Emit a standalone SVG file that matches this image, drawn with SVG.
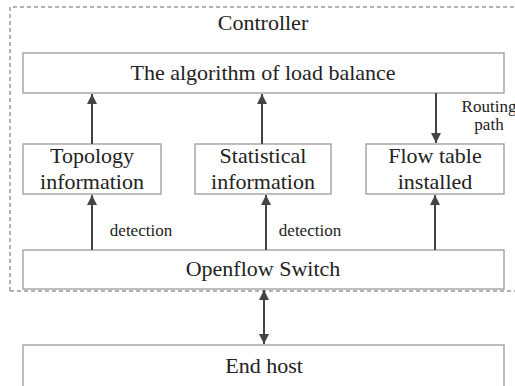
<svg xmlns="http://www.w3.org/2000/svg" width="515" height="386" viewBox="0 0 515 386">
<style>
.box{fill:#fff;stroke:#9a9a9a;stroke-width:1.3}
text{fill:#222;text-anchor:middle}
.big{font-size:22px}
.sm{font-size:17px}
.ln{stroke:#444;stroke-width:2;fill:none}
</style>
<defs>
<marker id="ah" viewBox="0 0 10 10" refX="10" refY="5" markerWidth="5" markerHeight="5" orient="auto-start-reverse" markerUnits="strokeWidth">
<path d="M0,0 L10,5 L0,10 z" fill="#444"/>
</marker>
</defs>
<rect x="0" y="0" width="515" height="386" fill="#fff"/>
<path d="M10,291 L10,7 L515,7 M10,291 L515,291" fill="none" stroke="#666" stroke-width="1" stroke-dasharray="4,3"/>
<g font-family="Liberation Serif, Times New Roman, DejaVu Serif, serif">
<g id="controller-label"><text class="big" x="263" y="30">Controller</text></g>
<g id="algorithm"><rect class="box" x="23" y="53" width="481" height="40"/><text class="big" x="263" y="80">The algorithm of load balance</text></g>
<g id="topology"><rect class="box" x="23" y="144" width="138" height="50"/><text class="big" x="92" y="163">Topology</text><text class="big" x="92" y="189">information</text></g>
<g id="statistical"><rect class="box" x="195" y="144" width="136" height="50"/><text class="big" x="263" y="163">Statistical</text><text class="big" x="263" y="189">information</text></g>
<g id="flowtable"><rect class="box" x="366" y="144" width="138" height="50"/><text class="big" x="435" y="163">Flow table</text><text class="big" x="435" y="189">installed</text></g>
<g id="openflow"><rect class="box" x="23" y="250" width="481" height="39"/><text class="big" x="263" y="276">Openflow Switch</text></g>
<g id="endhost"><rect class="box" x="23" y="345" width="481" height="50"/><text class="big" x="264" y="373">End host</text></g>
<g id="connectors">
<line class="ln" x1="92" y1="144" x2="92" y2="94" marker-end="url(#ah)"/>
<line class="ln" x1="262" y1="144" x2="262" y2="94" marker-end="url(#ah)"/>
<line class="ln" x1="436" y1="93" x2="436" y2="143" marker-end="url(#ah)"/>
<line class="ln" x1="92" y1="250" x2="92" y2="195" marker-end="url(#ah)"/>
<line class="ln" x1="266" y1="250" x2="266" y2="195" marker-end="url(#ah)"/>
<line class="ln" x1="435" y1="250" x2="435" y2="195" marker-end="url(#ah)"/>
<line class="ln" x1="264" y1="290" x2="264" y2="344" marker-start="url(#ah)" marker-end="url(#ah)"/>
<text class="sm" x="141" y="236">detection</text>
<text class="sm" x="310" y="236">detection</text>
<text class="sm" x="489" y="112">Routing</text>
<text class="sm" x="489" y="130">path</text>
</g>
</g>
</svg>
